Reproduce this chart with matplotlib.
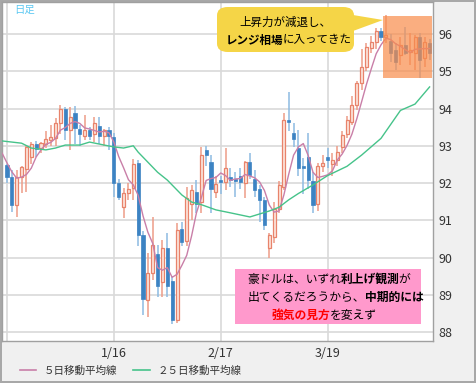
import matplotlib.pyplot as plt
import numpy as np
from matplotlib.patches import FancyBboxPatch, Polygon, Rectangle
from matplotlib.lines import Line2D

plt.rcParams['font.family'] = ['Noto Sans CJK JP', 'DejaVu Sans']

# daily candles, 88 sessions
opens = [92.48, 92.15, 91.41, 92.16, 92.39, 92.70, 93.05, 92.94, 93.05, 93.15,
         93.20, 93.60, 93.98, 93.42, 93.87, 93.44, 93.25, 93.42, 93.33, 93.53,
         93.25, 93.42, 93.23, 92.00, 91.37, 91.74, 91.86, 92.53, 90.60, 88.86,
         89.58, 90.09, 89.35, 90.25, 89.37, 88.32, 90.77, 90.45, 91.45, 91.77,
         91.50, 92.90, 92.57, 91.77, 92.08, 92.04, 92.17, 92.12, 92.20, 91.99,
         92.57, 92.10, 91.83, 91.54, 90.25, 90.55, 91.30, 91.90, 93.70, 93.35,
         92.93, 92.45, 92.70, 92.05, 91.45, 92.45, 92.70, 92.50, 92.62, 92.97,
         93.33, 93.65, 94.10, 94.68, 95.12, 95.62, 95.79, 96.09, 95.92, 95.80,
         95.57, 95.44, 95.70, 95.53, 95.48, 95.93, 95.35, 95.75]
highs = [92.51, 92.34, 92.34, 92.45, 93.01, 93.10, 93.13, 93.10, 93.40, 93.55,
         93.75, 94.10, 94.05, 94.04, 94.07, 93.55, 93.83, 93.50, 93.78, 93.78,
         93.45, 93.50, 93.35, 92.10, 91.87, 92.00, 92.64, 92.62, 90.70, 90.12,
         91.10, 90.34, 90.47, 90.66, 89.50, 90.93, 90.95, 91.90, 91.95, 92.08,
         92.97, 93.00, 92.75, 92.20, 92.20, 92.93, 92.40, 92.30, 92.40, 92.60,
         92.80, 92.35, 91.95, 91.63, 90.65, 91.50, 92.05, 93.87, 94.45, 93.60,
         93.42, 92.67, 93.34, 92.30, 92.55, 92.75, 92.95, 92.80, 93.00, 93.40,
         93.80, 94.35, 94.75, 95.60, 95.75, 95.95, 96.15, 96.15, 96.50, 96.00,
         95.75, 95.93, 96.20, 96.03, 95.97, 96.02, 95.93, 95.88]
lows = [92.00, 91.22, 91.09, 91.73, 91.77, 92.50, 92.70, 92.80, 92.95, 93.00,
        93.00, 93.33, 93.15, 92.89, 93.05, 93.00, 93.15, 93.15, 93.10, 93.05,
        93.00, 92.90, 91.62, 91.55, 91.05, 91.54, 91.54, 90.30, 88.45, 88.41,
        89.40, 88.94, 88.95, 88.95, 88.22, 88.24, 90.30, 90.30, 91.00, 91.20,
        91.20, 92.45, 91.20, 91.60, 91.70, 91.80, 91.90, 91.63, 91.85, 91.60,
        92.10, 91.63, 90.96, 90.74, 90.00, 90.40, 91.20, 91.80, 93.40, 92.98,
        92.20, 91.70, 91.85, 91.20, 91.25, 92.30, 92.40, 92.20, 92.45, 92.80,
        93.20, 93.55, 93.95, 94.50, 95.00, 95.50, 95.60, 95.80, 95.75, 95.26,
        95.03, 95.17, 95.44, 95.17, 95.03, 94.81, 95.12, 95.30]
closes = [92.16, 91.41, 92.16, 92.43, 92.97, 93.05, 92.91, 93.07, 93.18, 93.23,
          93.60, 94.00, 93.42, 93.76, 93.47, 93.33, 93.42, 93.25, 93.60, 93.25,
          93.42, 93.25, 92.00, 91.63, 91.74, 91.85, 92.51, 90.60, 88.88, 89.58,
          90.34, 89.23, 90.25, 89.23, 88.32, 90.74, 90.42, 91.60, 91.80, 91.45,
          92.75, 92.75, 91.83, 91.98, 92.04, 92.40, 92.08, 92.05, 92.04, 92.57,
          92.21, 91.81, 91.54, 90.87, 90.60, 91.30, 91.95, 93.69, 93.65, 93.17,
          92.40, 92.40, 92.08, 91.40, 92.45, 92.55, 92.62, 92.62, 92.84, 93.29,
          93.69, 94.10, 94.68, 95.12, 95.66, 95.79, 96.09, 95.91, 95.98, 95.48,
          95.26, 95.70, 95.48, 95.57, 95.93, 95.30, 95.79, 95.48]

# 5-day average, first value sits one session left of the first candle
ma5 = [92.80, 92.54, 92.30, 92.13, 92.16, 92.23, 92.40, 92.70, 92.89, 93.04,
       93.09, 93.20, 93.42, 93.49, 93.60, 93.65, 93.60, 93.48, 93.45, 93.41,
       93.37, 93.39, 93.35, 93.10, 92.71, 92.41, 92.09, 91.95, 91.67, 91.12,
       90.68, 90.38, 89.73, 89.66, 89.73, 89.47, 89.55, 89.79, 90.06, 90.58,
       91.20, 91.60, 92.07, 92.12, 92.15, 92.27, 92.20, 92.07, 92.11, 92.12,
       92.23, 92.19, 92.14, 92.03, 91.80, 91.41, 91.22, 91.25, 91.68, 92.24,
       92.75, 92.97, 93.06, 92.74, 92.29, 92.15, 92.18, 92.22, 92.33, 92.62,
       92.78, 93.01, 93.31, 93.72, 94.18, 94.65, 95.07, 95.47, 95.71, 95.89,
       95.85, 95.74, 95.67, 95.58, 95.50, 95.59, 95.60, 95.61, 95.61]

# 25-day average sampled along the curve
ma25_pos = [-1, 3, 5, 8, 10, 12, 15, 17, 20, 22, 24, 26, 27, 29, 31, 33, 36,
            38, 40, 43, 46, 50, 52, 54, 56, 58, 60, 63, 66, 70, 73, 77, 81, 84, 87]
ma25 = [93.13, 93.07, 92.94, 92.89, 92.94, 93.02, 93.02, 93.10, 93.02, 92.97,
        92.94, 93.00, 92.83, 92.56, 92.29, 92.08, 91.68, 91.49, 91.42, 91.28,
        91.20, 91.09, 91.17, 91.25, 91.35, 91.55, 91.72, 91.95, 92.20, 92.45,
        92.75, 93.20, 93.95, 94.12, 94.58]

tick_pos = [0, 22, 44, 66]
tick_labels = ['', '1/16', '2/17', '3/19']
y_ticks = [88, 89, 90, 91, 92, 93, 94, 95, 96]

UP_EDGE, UP_FILL, UP_WICK = '#E8836B', '#FCE4DB', '#EE9C88'
DN_BODY, DN_WICK = '#3C83C3', '#8DBBE2'
MA5_C, MA25_C = '#C97FA8', '#46C38A'

fig = plt.figure(figsize=(4.76, 3.83), dpi=100, facecolor='#F0F0F0')
fig.patch.set_edgecolor('#A8A8A8')
fig.patch.set_linewidth(1.5)
ax = fig.add_axes([2 / 476, 42 / 383, 431 / 476, 339 / 383])
ax.set_facecolor('white')


def px(x, y):
    # pixel position in the picture -> axes fraction
    return (x - 2) / 431, (341 - y) / 339


o, h, l, c = (np.array(v) for v in (opens, highs, lows, closes))
x = np.arange(len(o))
up = c >= o
body_lo = np.minimum(o, c)
body_h = np.maximum(np.abs(c - o), 0.03)

ax.vlines(x[up], l[up], h[up], color=UP_WICK, lw=1.1, zorder=2)
ax.vlines(x[~up], l[~up], h[~up], color=DN_WICK, lw=1.1, zorder=2)
ax.bar(x[up], body_h[up], bottom=body_lo[up], width=0.62, color=UP_FILL,
       edgecolor=UP_EDGE, lw=0.9, zorder=3)
ax.bar(x[~up], body_h[~up], bottom=body_lo[~up], width=0.66, color=DN_BODY,
       edgecolor=DN_BODY, lw=0.5, zorder=3)

ax.plot(np.arange(-1, len(o)), ma5, color=MA5_C, lw=1.0, zorder=4)
ax.plot(ma25_pos, ma25, color=MA25_C, lw=1.0, zorder=4)

ax.set_xlim(-1.03, 87.7)
ax.set_ylim(87.76, 96.86)
ax.set_xticks(tick_pos)
ax.set_xticklabels(tick_labels)
ax.set_yticks(y_ticks)
ax.yaxis.tick_right()
ax.tick_params(length=0, labelsize=9, colors='#333333')
ax.tick_params(axis='y', pad=4)
ax.tick_params(axis='x', pad=4)
ax.grid(color='#D9D9D9', lw=1.2)
ax.set_axisbelow(True)
for s in ax.spines.values():
    s.set_color('#A0A0A0')
    s.set_linewidth(1.0)

# range box over the last sessions
ax.add_patch(Rectangle((77.4, 94.82), 10.1, 1.66, color='#F98C4A', alpha=0.7,
                       lw=0, zorder=5))

ax.text(*px(14, 10), '日足', transform=ax.transAxes, fontsize=7.5,
        color='#5CC8F2', va='center', ha='left')


def rich_line(start, parts, size=8.5):
    s, w, col = parts[0]
    t = ax.text(*start, s, transform=ax.transAxes, fontsize=size, fontweight=w,
                color=col, va='center', ha='left', zorder=8)
    for s, w, col in parts[1:]:
        t = ax.annotate(s, xy=(1, 0.5), xycoords=t, xytext=(-0.4, 0),
                        textcoords='offset points', fontsize=size,
                        fontweight=w, color=col, va='center', ha='left',
                        zorder=8)


# yellow callout
x0, y0 = px(217, 52)
x1, y1 = px(354, 7)
ax.add_patch(FancyBboxPatch((x0, y0), x1 - x0, y1 - y0,
                            boxstyle='round,pad=0,rounding_size=0.025',
                            transform=ax.transAxes, color='#F5D547', lw=0,
                            zorder=6))
ax.add_patch(Polygon([px(353, 15), px(383, 20), px(353, 31)], closed=True,
                     transform=ax.transAxes, color='#F5D547', lw=0, zorder=6))
rich_line(px(239, 22), [('上昇力が減退し、', 'normal', 'black')], size=8.3)
rich_line(px(226, 40), [('レンジ相場', 'bold', 'black'),
                        ('に入ってきた', 'normal', 'black')], size=8.3)

# pink comment box
x0, y0 = px(235, 324)
x1, y1 = px(421, 269)
ax.add_patch(Rectangle((x0, y0), x1 - x0, y1 - y0, transform=ax.transAxes,
                       color='#FF99CC', lw=0, zorder=6))
rich_line(px(247, 279), [('豪ドルは、いずれ', 'normal', 'black'),
                         ('利上げ観測', 'bold', 'black'),
                         ('が', 'normal', 'black')])
rich_line(px(248, 297), [('出てくるだろうから、', 'normal', 'black'),
                         ('中期的には', 'bold', 'black')])
rich_line(px(272, 315), [('強気の見方', 'bold', '#FF0000'),
                         ('を変えず', 'normal', 'black')])

handles = [Line2D([], [], color=MA5_C, lw=1.2),
           Line2D([], [], color=MA25_C, lw=1.2)]
fig.legend(handles, ['５日移動平均線', '２５日移動平均線'], loc='center left',
           bbox_to_anchor=(10 / 476, 12 / 383), ncol=2, frameon=False,
           fontsize=7.6, handlelength=1.6, handletextpad=0.7,
           columnspacing=1.5, labelcolor='#333333')

fig.savefig('out.png', dpi=100, facecolor=fig.get_facecolor(),
            edgecolor=fig.get_edgecolor())
